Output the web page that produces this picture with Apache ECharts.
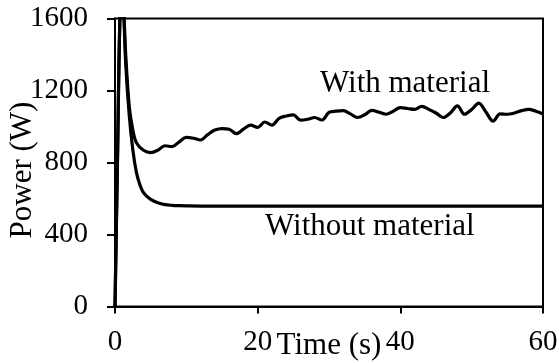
<!DOCTYPE html>
<html>
<head>
<meta charset="utf-8">
<script src="https://cdn.jsdelivr.net/npm/echarts@6/dist/echarts.min.js"></script>
<style>
  html, body { margin: 0; padding: 0; background: #fff; }
  #chart { width: 559px; height: 363px; }
</style>
</head>
<body>
<div id="chart"></div>
<script>
// Power drawn over time, with and without material in the chamber
const timeWithout = [0, 0.35, 0.7, 1, 1.5, 2, 2.5, 3, 3.5, 4, 5, 6, 7, 8, 9, 10, 12, 15, 20, 25, 30, 35, 40, 45, 50, 55, 60];
const powerWithout = [0, 820, 1620, 1780, 1350, 1060, 870, 745, 675, 632, 595, 576, 566, 562, 560, 559, 558, 558, 558, 558, 558, 558, 558, 558, 558, 558, 558];

const timeWith = [0, 0.35, 0.7, 1, 1.5, 2, 2.5, 3, 4, 5, 6, 7, 8, 9, 10, 11, 12, 13, 14, 15, 16, 17, 18, 19, 20,
  21, 22, 23, 24, 25, 26, 27, 28, 29, 30, 31, 32, 33, 34, 35, 36, 37, 38, 39, 40,
  41, 42, 43, 44, 45, 46, 47, 48, 49, 50, 51, 52, 53, 54, 55, 56, 57, 58, 59, 60];
const powerWith = [0, 820, 1620, 1780, 1400, 1110, 980, 910, 868, 855, 868, 893, 888, 915, 940, 935, 925, 955, 980, 988, 985, 960, 985, 1008, 995,
  1025, 1008, 1045, 1058, 1065, 1035, 1040, 1050, 1036, 1078, 1085, 1088, 1070, 1050, 1065, 1090, 1080, 1068, 1085, 1105,
  1100, 1095, 1112, 1095, 1075, 1050, 1075, 1115, 1068, 1095, 1130, 1080, 1030, 1070, 1068, 1075, 1088, 1095, 1085, 1070];

const xTicks = [0, 20, 40, 60];
const yTicks = [0, 400, 800, 1200, 1600];
const labelWith = 'With material';
const labelWithout = 'Without material';

const pairs = (xs, ys) => xs.map((x, i) => [x, ys[i]]);
const serif = '"Liberation Serif", "Times New Roman", serif';
const plain = v => String(v);

const chart = echarts.init(document.getElementById('chart'), null, { renderer: 'canvas' });
chart.setOption({
  animation: false,
  backgroundColor: '#fff',
  grid: {
    left: 115, right: 16, top: 18.5, bottom: 56.5,
    containLabel: false, outerBoundsMode: 'none',
    show: true, borderColor: '#000', borderWidth: 2, backgroundColor: 'transparent'
  },
  xAxis: {
    type: 'value',
    min: xTicks[0], max: xTicks[xTicks.length - 1], interval: 20,
    name: 'Time (s)', nameLocation: 'middle', nameGap: 24, nameMoveOverlap: false,
    nameTextStyle: { fontFamily: serif, fontSize: 31, color: '#000' },
    axisLine: { lineStyle: { color: '#000', width: 2 } },
    axisTick: { show: true, inside: false, length: 7, lineStyle: { color: '#000', width: 2 } },
    axisLabel: { fontFamily: serif, fontSize: 29, color: '#000', margin: 21, formatter: plain },
    splitLine: { show: false }
  },
  yAxis: {
    type: 'value',
    min: yTicks[0], max: yTicks[yTicks.length - 1], interval: 400,
    name: 'Power (W)', nameLocation: 'middle', nameGap: 77, nameRotate: 90, nameMoveOverlap: false,
    nameTextStyle: { fontFamily: serif, fontSize: 31, color: '#000', padding: [0, 15, 0, 0] },
    axisLine: { lineStyle: { color: '#000', width: 2 } },
    axisTick: { show: true, inside: false, length: 8, lineStyle: { color: '#000', width: 2 } },
    axisLabel: { fontFamily: serif, fontSize: 29, color: '#000', margin: 27, formatter: plain },
    splitLine: { show: false }
  },
  series: [
    {
      name: labelWithout, type: 'line', data: pairs(timeWithout, powerWithout),
      showSymbol: false, smooth: 0.35, clip: true,
      lineStyle: { color: '#000', width: 3.2 }
    },
    {
      name: labelWith, type: 'line', data: pairs(timeWith, powerWith),
      showSymbol: false, smooth: 0.35, clip: true,
      lineStyle: { color: '#000', width: 3.2 }
    }
  ],
  graphic: [
    { type: 'text', left: 320, top: 68, style: { text: labelWith, font: '31px ' + serif, fill: '#000' } },
    { type: 'text', left: 265, top: 211, style: { text: labelWithout, font: '31px ' + serif, fill: '#000' } }
  ]
});
</script>
</body>
</html>
